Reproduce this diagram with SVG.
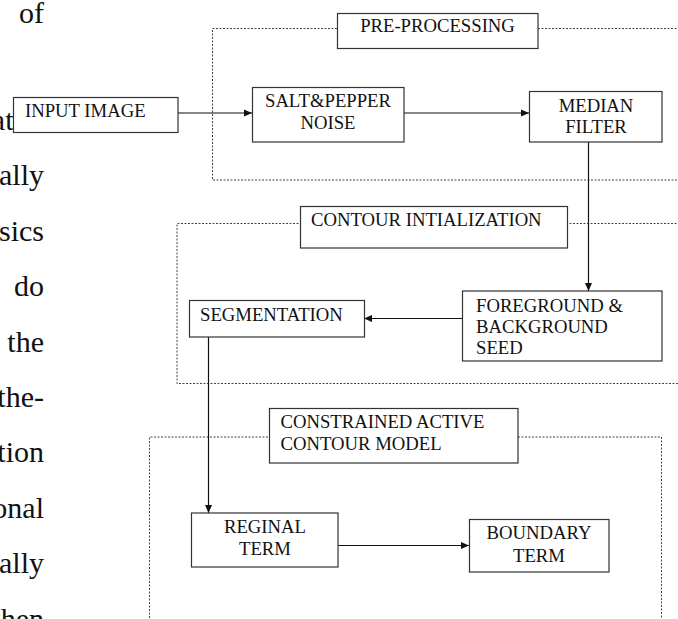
<svg xmlns="http://www.w3.org/2000/svg" width="678" height="619" viewBox="0 0 678 619">
<style>
.bg{fill:#fff}
.body{font-family:"Liberation Serif","Times New Roman",serif;font-size:30px;fill:#111;text-anchor:end}
.box{fill:#fff;stroke:#333;stroke-width:1.2}
.lbl{font-family:"Liberation Serif","Times New Roman",serif;font-size:18.7px;fill:#111}
.c{text-anchor:middle}
.region{fill:none;stroke:#444;stroke-width:1;stroke-dasharray:2 1.5}
.conn{fill:none;stroke:#111;stroke-width:1.2}
</style>
<defs>
<marker id="arr" markerUnits="userSpaceOnUse" markerWidth="9" markerHeight="8" refX="8" refY="4" orient="auto">
<path d="M0,0.5 L8,4 L0,7.5 z" fill="#111"/>
</marker>
</defs>
<rect class="bg" x="0" y="0" width="678" height="619"/>
<g id="body-text">
<text class="body" x="44" y="22.5">of</text>
<text class="body" x="13.5" y="130">at</text>
<text class="body" x="44" y="185.4">ally</text>
<text class="body" x="44" y="240.8">sics</text>
<text class="body" x="44" y="296.2">do</text>
<text class="body" x="44" y="351.6">the</text>
<text class="body" x="44" y="407">the-</text>
<text class="body" x="44" y="462.4">tion</text>
<text class="body" x="44" y="517.8">onal</text>
<text class="body" x="44" y="573.2">ally</text>
<text class="body" x="44" y="628.6">then</text>
</g>
<g id="regions">
<path class="region" d="M680 28.5 H212.5 V180 H680"/>
<path class="region" d="M680 223.5 H177 V383.5 H680"/>
<path class="region" d="M149.5 625 V437 H661.5 V625"/>
</g>
<g id="connectors">
<line class="conn" x1="178" y1="113" x2="252" y2="113" marker-end="url(#arr)"/>
<line class="conn" x1="404" y1="113" x2="529" y2="113" marker-end="url(#arr)"/>
<line class="conn" x1="588.5" y1="142" x2="588.5" y2="291" marker-end="url(#arr)"/>
<line class="conn" x1="462" y1="318.5" x2="364" y2="318.5" marker-end="url(#arr)"/>
<line class="conn" x1="208.5" y1="337" x2="208.5" y2="513" marker-end="url(#arr)"/>
<line class="conn" x1="338" y1="545.5" x2="469" y2="545.5" marker-end="url(#arr)"/>
</g>
<g id="input-image">
<rect class="box" x="13.5" y="97.5" width="164.5" height="35"/>
<text class="lbl" x="25" y="117">INPUT IMAGE</text>
</g>
<g id="pre-processing">
<rect class="box" x="337.5" y="13.5" width="200.5" height="35"/>
<text class="lbl c" x="437.5" y="32">PRE-PROCESSING</text>
</g>
<g id="salt-pepper">
<rect class="box" x="252.5" y="87.5" width="151.5" height="54.5"/>
<text class="lbl c" x="328" y="107">SALT&amp;PEPPER</text>
<text class="lbl c" x="328" y="128.5">NOISE</text>
</g>
<g id="median-filter">
<rect class="box" x="529.5" y="91.5" width="132.5" height="50.5"/>
<text class="lbl c" x="596" y="111.5">MEDIAN</text>
<text class="lbl c" x="596" y="132.5">FILTER</text>
</g>
<g id="contour-init">
<rect class="box" x="300.5" y="206.5" width="267" height="41.5"/>
<text class="lbl" x="311" y="225.5">CONTOUR INTIALIZATION</text>
</g>
<g id="fg-bg-seed">
<rect class="box" x="462.5" y="291" width="199.5" height="70"/>
<text class="lbl" x="476" y="312">FOREGROUND &amp;</text>
<text class="lbl" x="476" y="333">BACKGROUND</text>
<text class="lbl" x="476" y="353.5">SEED</text>
</g>
<g id="segmentation">
<rect class="box" x="189.5" y="300.5" width="175" height="36.5"/>
<text class="lbl" x="200" y="320.5">SEGMENTATION</text>
</g>
<g id="cacm">
<rect class="box" x="269.5" y="408.5" width="248.5" height="54.5"/>
<text class="lbl" x="280.5" y="427.5">CONSTRAINED ACTIVE</text>
<text class="lbl" x="280.5" y="450">CONTOUR MODEL</text>
</g>
<g id="reginal-term">
<rect class="box" x="191.5" y="513" width="146.5" height="54"/>
<text class="lbl c" x="265" y="532.5">REGINAL</text>
<text class="lbl c" x="265" y="555">TERM</text>
</g>
<g id="boundary-term">
<rect class="box" x="469.5" y="519.5" width="139.5" height="52.5"/>
<text class="lbl c" x="539" y="539">BOUNDARY</text>
<text class="lbl c" x="539" y="561.5">TERM</text>
</g>
</svg>
